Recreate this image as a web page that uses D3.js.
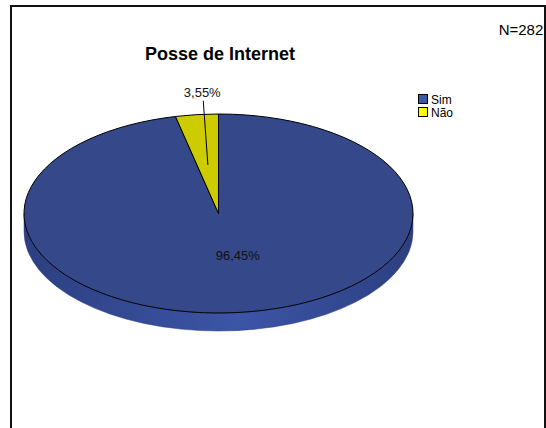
<!DOCTYPE html>
<html>
<head>
<meta charset="utf-8">
<script src="https://cdn.jsdelivr.net/npm/d3@7"></script>
<style>
  html, body { margin: 0; padding: 0; background: #fff; }
  svg { display: block; font-family: "Liberation Sans", Arial, sans-serif; }
</style>
</head>
<body>
<script>
// Data
const categories = ["Sim", "Não"];
const values = [96.45, 3.55];
const valueLabels = ["96,45%", "3,55%"];
const title = "Posse de Internet";
const sampleNote = "N=282";

const topColors = ["#34488a", "#cccc00"];
const legendColors = ["#3d56a6", "#ffff00"];
const sideLight = ["#3c55a7", "#b8b800"];
const sideDark = ["#2c3f80", "#9a9a00"];

const W = 546, H = 428;
const svg = d3.select("body").append("svg").attr("width", W).attr("height", H);
svg.append("rect").attr("width", W).attr("height", H).attr("fill", "#fff");

// Frame (bottom edge runs past the window)
svg.append("rect")
  .attr("x", 11).attr("y", 6).attr("width", 534).attr("height", 440)
  .attr("fill", "none").attr("stroke", "#111").attr("stroke-width", 2);

svg.append("text").attr("x", 521).attr("y", 35).attr("text-anchor", "middle")
  .attr("font-size", 15).attr("fill", "#000").text(sampleNote);

svg.append("text").attr("x", 220).attr("y", 60).attr("text-anchor", "middle")
  .attr("font-size", 18).attr("font-weight", "bold").attr("fill", "#000").text(title);

// 3D pie geometry
const cx = 218.5, cy = 213.5, rx = 194.5, ry = 99.5, depth = 18;
const pie = d3.pie().sort(null).startAngle(0).endAngle(2 * Math.PI);
const arcs = pie(values);

const px = (a, k = 1) => cx + rx * k * Math.sin(a);
const py = (a, k = 1) => cy - ry * k * Math.cos(a);

const defs = svg.append("defs");
arcs.forEach((d, i) => {
  const g = defs.append("linearGradient").attr("id", "side" + i)
    .attr("gradientUnits", "userSpaceOnUse")
    .attr("x1", cx - rx).attr("x2", cx + rx).attr("y1", 0).attr("y2", 0);
  g.append("stop").attr("offset", "0%").attr("stop-color", sideDark[i]);
  g.append("stop").attr("offset", "55%").attr("stop-color", sideLight[i]);
  g.append("stop").attr("offset", "100%").attr("stop-color", sideDark[i]);
});

// Side walls: only the front half (angles PI/2 .. 3PI/2) is visible
const sideG = svg.append("g");
arcs.forEach((d, i) => {
  const a0 = Math.max(d.startAngle, Math.PI / 2);
  const a1 = Math.min(d.endAngle, 3 * Math.PI / 2);
  if (a1 <= a0) return;
  const large = (a1 - a0) > Math.PI ? 1 : 0;
  const p = `M${px(a0)},${py(a0)} A${rx},${ry} 0 ${large} 1 ${px(a1)},${py(a1)}` +
    ` L${px(a1)},${py(a1) + depth} A${rx},${ry} 0 ${large} 0 ${px(a0)},${py(a0) + depth} Z`;
  sideG.append("path").attr("d", p).attr("fill", `url(#side${i})`)
    .attr("stroke", sideDark[i]).attr("stroke-width", 0.5);
});

// Top faces
const topG = svg.append("g");
arcs.forEach((d, i) => {
  const a0 = d.startAngle, a1 = d.endAngle;
  const large = (a1 - a0) > Math.PI ? 1 : 0;
  const p = `M${cx},${cy} L${px(a0)},${py(a0)} A${rx},${ry} 0 ${large} 1 ${px(a1)},${py(a1)} Z`;
  topG.append("path").attr("d", p).attr("fill", topColors[i])
    .attr("stroke", "#000").attr("stroke-width", 1).attr("stroke-linejoin", "round");
});

// Value labels
const labelG = svg.append("g").attr("font-size", 13).attr("fill", "#111");
// large slice: label inside
{
  const d = arcs[0];
  const m = (d.startAngle + d.endAngle) / 2;
  labelG.append("text").attr("x", px(m, 0.43) + 10).attr("y", py(m, 0.43) + 4)
    .attr("text-anchor", "middle").text(valueLabels[0]);
}
// small slice: label above with leader line
{
  const d = arcs[1];
  const m = (d.startAngle + d.endAngle) / 2;
  const lx = px(m, 1.12) + 8, ly = py(m, 1.12) - 3;
  svg.append("line")
    .attr("x1", px(m, 0.49)).attr("y1", py(m, 0.49))
    .attr("x2", lx + 1).attr("y2", ly + 1)
    .attr("stroke", "#000").attr("stroke-width", 1);
  labelG.append("text").attr("x", lx).attr("y", ly - 3)
    .attr("text-anchor", "middle").text(valueLabels[1]);
}

// Legend
const legend = svg.append("g").attr("transform", "translate(418,94)");
categories.forEach((c, i) => {
  const row = legend.append("g").attr("transform", `translate(0,${i * 13})`);
  row.append("rect").attr("x", 0.5).attr("y", 0.5).attr("width", 9).attr("height", 9)
    .attr("fill", legendColors[i]).attr("stroke", "#000").attr("stroke-width", 1);
  row.append("text").attr("x", 13).attr("y", 9.5).attr("font-size", 12)
    .attr("fill", "#000").text(c);
});
</script>
</body>
</html>
